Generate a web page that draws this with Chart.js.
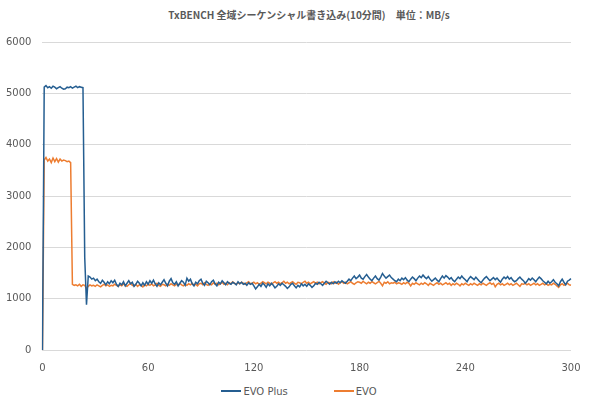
<!DOCTYPE html>
<html lang="ja">
<head>
    <meta charset="UTF-8">
    <title>TxBENCH 全域シーケンシャル書き込み</title>
    <script src="https://cdn.jsdelivr.net/npm/chart.js"></script>
    <style>
        body {
            margin: 0;
            background: #fff;
            font-family: "DejaVu Sans", "Noto Sans CJK JP", sans-serif;
            position: relative;
        }
        .chart-title {
            position: absolute;
            top: 7px;
            left: 0;
            width: 590px;
            box-sizing: border-box;
            padding-left: 28px;
            text-align: center;
            font-family: "Noto Sans CJK JP", sans-serif;
            font-size: 10px;
            font-weight: bold;
            color: #595959;
            white-space: pre;
        }
        .chart-box {
            width: 590px;
            height: 380px;
            position: relative;
        }
        .legend {
            display: flex;
            justify-content: center;
            align-items: center;
            height: 18px;
            padding-top: 2px;
            font-size: 10px;
            color: #595959;
            padding-left: 8px;
        }
        .legend-item {
            display: flex;
            align-items: center;
        }
        .legend-item + .legend-item {
            margin-left: 46px;
        }
        .legend-line {
            display: inline-block;
            width: 20px;
            height: 2px;
            margin-right: 2px;
        }
    </style>
</head>
<body>
    <div class="chart-title">TxBENCH 全域シーケンシャル書き込み(10分間)　単位：MB/s</div>
    <div class="chart-box">
        <canvas id="writeChart"></canvas>
    </div>
    <div class="legend" id="legend"></div>

    <script>
        // elapsed seconds, one sample per second
        const seconds = Array.from({ length: 301 }, (_, i) => i);
        const seriesNames = ['EVO Plus', 'EVO'];
        const yTicks = [0, 1000, 2000, 3000, 4000, 5000, 6000];
        const xTickStep = 60;

        // MB/s
        const evoPlus = [
            0, 5120, 5150, 5110, 5130, 5100, 5140, 5120, 5090, 5110,
            5130, 5100, 5080, 5090, 5120, 5110, 5130, 5100, 5120, 5140,
            5110, 5130, 5120, 5110, 1800, 880, 1440, 1420, 1380, 1400,
            1350, 1380, 1330, 1300, 1360, 1320, 1270, 1330, 1290, 1350,
            1310, 1360, 1280, 1240, 1300, 1270, 1330, 1250, 1300, 1350,
            1290, 1320, 1240, 1280, 1340, 1300, 1250, 1310, 1260, 1330,
            1280, 1350, 1300, 1360, 1290, 1240, 1310, 1270, 1320, 1370,
            1300, 1250, 1340, 1390, 1310, 1280, 1330, 1250, 1300, 1350,
            1320, 1260, 1400, 1340, 1380, 1290, 1250, 1320, 1290, 1350,
            1380, 1300, 1260, 1340, 1310, 1270, 1330, 1360, 1290, 1250,
            1320, 1290, 1350, 1310, 1270, 1330, 1300, 1280, 1320, 1300,
            1270, 1330, 1290, 1320, 1280, 1300, 1260, 1310, 1280, 1300,
            1250, 1190, 1230, 1280, 1240, 1300, 1270, 1220, 1290, 1250,
            1300, 1260, 1210, 1240, 1290, 1260, 1300, 1270, 1240, 1200,
            1230, 1280, 1300, 1250, 1210, 1260, 1230, 1290, 1250, 1280,
            1240, 1290, 1260, 1220, 1250, 1300, 1280, 1320, 1290, 1260,
            1300, 1340, 1310, 1280, 1320, 1290, 1330, 1300, 1340, 1310,
            1350, 1320, 1300, 1340, 1380, 1350, 1400, 1440, 1390, 1420,
            1460, 1400, 1380, 1430, 1470, 1420, 1380, 1350, 1400, 1440,
            1390, 1360, 1420, 1490, 1440, 1400, 1430, 1460, 1410, 1380,
            1350, 1330, 1380, 1350, 1400, 1370, 1410, 1360, 1330, 1380,
            1420, 1390, 1350, 1400, 1440, 1410, 1460, 1420, 1390, 1430,
            1380, 1340, 1370, 1400, 1360, 1330, 1390, 1440, 1400, 1450,
            1420, 1380, 1410, 1360, 1330, 1380, 1420, 1390, 1440, 1400,
            1370, 1330, 1390, 1430, 1400, 1370, 1420, 1380, 1340, 1310,
            1360, 1400, 1430, 1390, 1350, 1380, 1410, 1370, 1400, 1360,
            1320, 1380, 1420, 1390, 1430, 1380, 1410, 1360, 1330, 1350,
            1390, 1420, 1380, 1350, 1300, 1340, 1390, 1360, 1400, 1370,
            1330, 1380, 1420, 1390, 1350, 1320, 1290, 1340, 1300, 1330,
            1370, 1320, 1290, 1250, 1330, 1380, 1320, 1270, 1340, 1360,
            1390
        ];
        const evo = [
            0, 3700, 3750, 3680, 3720, 3650, 3740, 3670, 3730, 3660,
            3720, 3680, 3700, 3690, 3670, 3680, 3650, 1280, 1260, 1270,
            1250, 1280, 1240, 1270, 1260, 1200, 1240, 1270, 1250, 1260,
            1240, 1270, 1250, 1230, 1260, 1280, 1250, 1270, 1240, 1260,
            1250, 1280, 1260, 1240, 1270, 1250, 1290, 1260, 1240, 1270,
            1300, 1260, 1250, 1280, 1240, 1270, 1260, 1230, 1270, 1250,
            1280, 1260, 1290, 1250, 1270, 1300, 1260, 1240, 1280, 1270,
            1250, 1280, 1260, 1290, 1270, 1250, 1280, 1260, 1300, 1270,
            1250, 1280, 1260, 1290, 1270, 1300, 1260, 1280, 1250, 1290,
            1300, 1270, 1310, 1280, 1260, 1290, 1270, 1310, 1280, 1300,
            1270, 1290, 1320, 1280, 1300, 1270, 1310, 1290, 1330, 1300,
            1280, 1310, 1290, 1320, 1300, 1280, 1310, 1330, 1290, 1300,
            1320, 1290, 1310, 1280, 1300, 1330, 1310, 1290, 1320, 1300,
            1280, 1310, 1330, 1300, 1320, 1290, 1310, 1340, 1300, 1320,
            1290, 1310, 1330, 1300, 1280, 1320, 1310, 1290, 1320, 1340,
            1300, 1320, 1290, 1310, 1330, 1300, 1320, 1290, 1310, 1330,
            1300, 1280, 1320, 1310, 1290, 1330, 1300, 1320, 1280, 1310,
            1330, 1300, 1320, 1290, 1310, 1330, 1300, 1280, 1310, 1330,
            1320, 1300, 1340, 1310, 1290, 1320, 1300, 1330, 1310, 1290,
            1310, 1340, 1300, 1250, 1320, 1300, 1330, 1290, 1310, 1300,
            1320, 1290, 1310, 1300, 1280, 1310, 1290, 1320, 1300, 1250,
            1300, 1280, 1310, 1290, 1270, 1300, 1280, 1310, 1290, 1260,
            1300, 1280, 1260, 1290, 1310, 1280, 1300, 1270, 1290, 1310,
            1280, 1300, 1260, 1290, 1270, 1300, 1280, 1250, 1290, 1270,
            1300, 1280, 1260, 1290, 1270, 1300, 1280, 1260, 1290, 1270,
            1300, 1280, 1260, 1290, 1310, 1280, 1300, 1230, 1280, 1300,
            1270, 1290, 1260, 1280, 1300, 1270, 1290, 1260, 1280, 1300,
            1270, 1240, 1290, 1280, 1300, 1270, 1290, 1260, 1280, 1300,
            1270, 1290, 1260, 1280, 1300, 1270, 1290, 1260, 1280, 1270,
            1300, 1280, 1250, 1220, 1270, 1290, 1260, 1280, 1300, 1270,
            1260
        ];
        const seriesColors = ['#255E91', '#ED7D31'];

        const textColor = '#595959';
        const fontFamily = '"DejaVu Sans", "Noto Sans CJK JP", sans-serif';

        const ctx = document.getElementById('writeChart').getContext('2d');
        new Chart(ctx, {
            type: 'line',
            data: {
                labels: seconds,
                datasets: [
                    {
                        label: seriesNames[0],
                        data: evoPlus,
                        borderColor: seriesColors[0],
                        backgroundColor: seriesColors[0],
                        borderWidth: 1.5,
                        pointRadius: 0,
                        tension: 0
                    },
                    {
                        label: seriesNames[1],
                        data: evo,
                        borderColor: seriesColors[1],
                        backgroundColor: seriesColors[1],
                        borderWidth: 1.5,
                        pointRadius: 0,
                        tension: 0
                    }
                ]
            },
            options: {
                responsive: true,
                maintainAspectRatio: false,
                animation: false,
                layout: {
                    padding: { left: -5, right: 19, top: 42, bottom: 2 }
                },
                scales: {
                    x: {
                        grid: { display: false },
                        border: { display: false },
                        ticks: {
                            autoSkip: false,
                            maxRotation: 0,
                            padding: 4,
                            color: textColor,
                            font: { family: fontFamily, size: 10 },
                            callback: function(value) {
                                const s = seconds[value];
                                return s % xTickStep === 0 ? String(s) : null;
                            }
                        }
                    },
                    y: {
                        min: yTicks[0],
                        max: yTicks[yTicks.length - 1],
                        afterBuildTicks: function(axis) {
                            axis.ticks = yTicks.map(v => ({ value: v }));
                        },
                        grid: { color: '#D9D9D9', drawTicks: false },
                        border: { display: false },
                        ticks: {
                            padding: 11,
                            color: textColor,
                            font: { family: fontFamily, size: 10 },
                            callback: function(value) {
                                return String(value);
                            }
                        }
                    }
                },
                plugins: {
                    title: { display: false },
                    legend: { display: false },
                    tooltip: { enabled: false }
                }
            }
        });

        // legend below the canvas, lines and labels like the original
        const legendBox = document.getElementById('legend');
        seriesNames.forEach((name, i) => {
            const item = document.createElement('div');
            item.className = 'legend-item';
            const line = document.createElement('span');
            line.className = 'legend-line';
            line.style.background = seriesColors[i];
            const label = document.createElement('span');
            label.textContent = name;
            item.appendChild(line);
            item.appendChild(label);
            legendBox.appendChild(item);
        });
    </script>
</body>
</html>
